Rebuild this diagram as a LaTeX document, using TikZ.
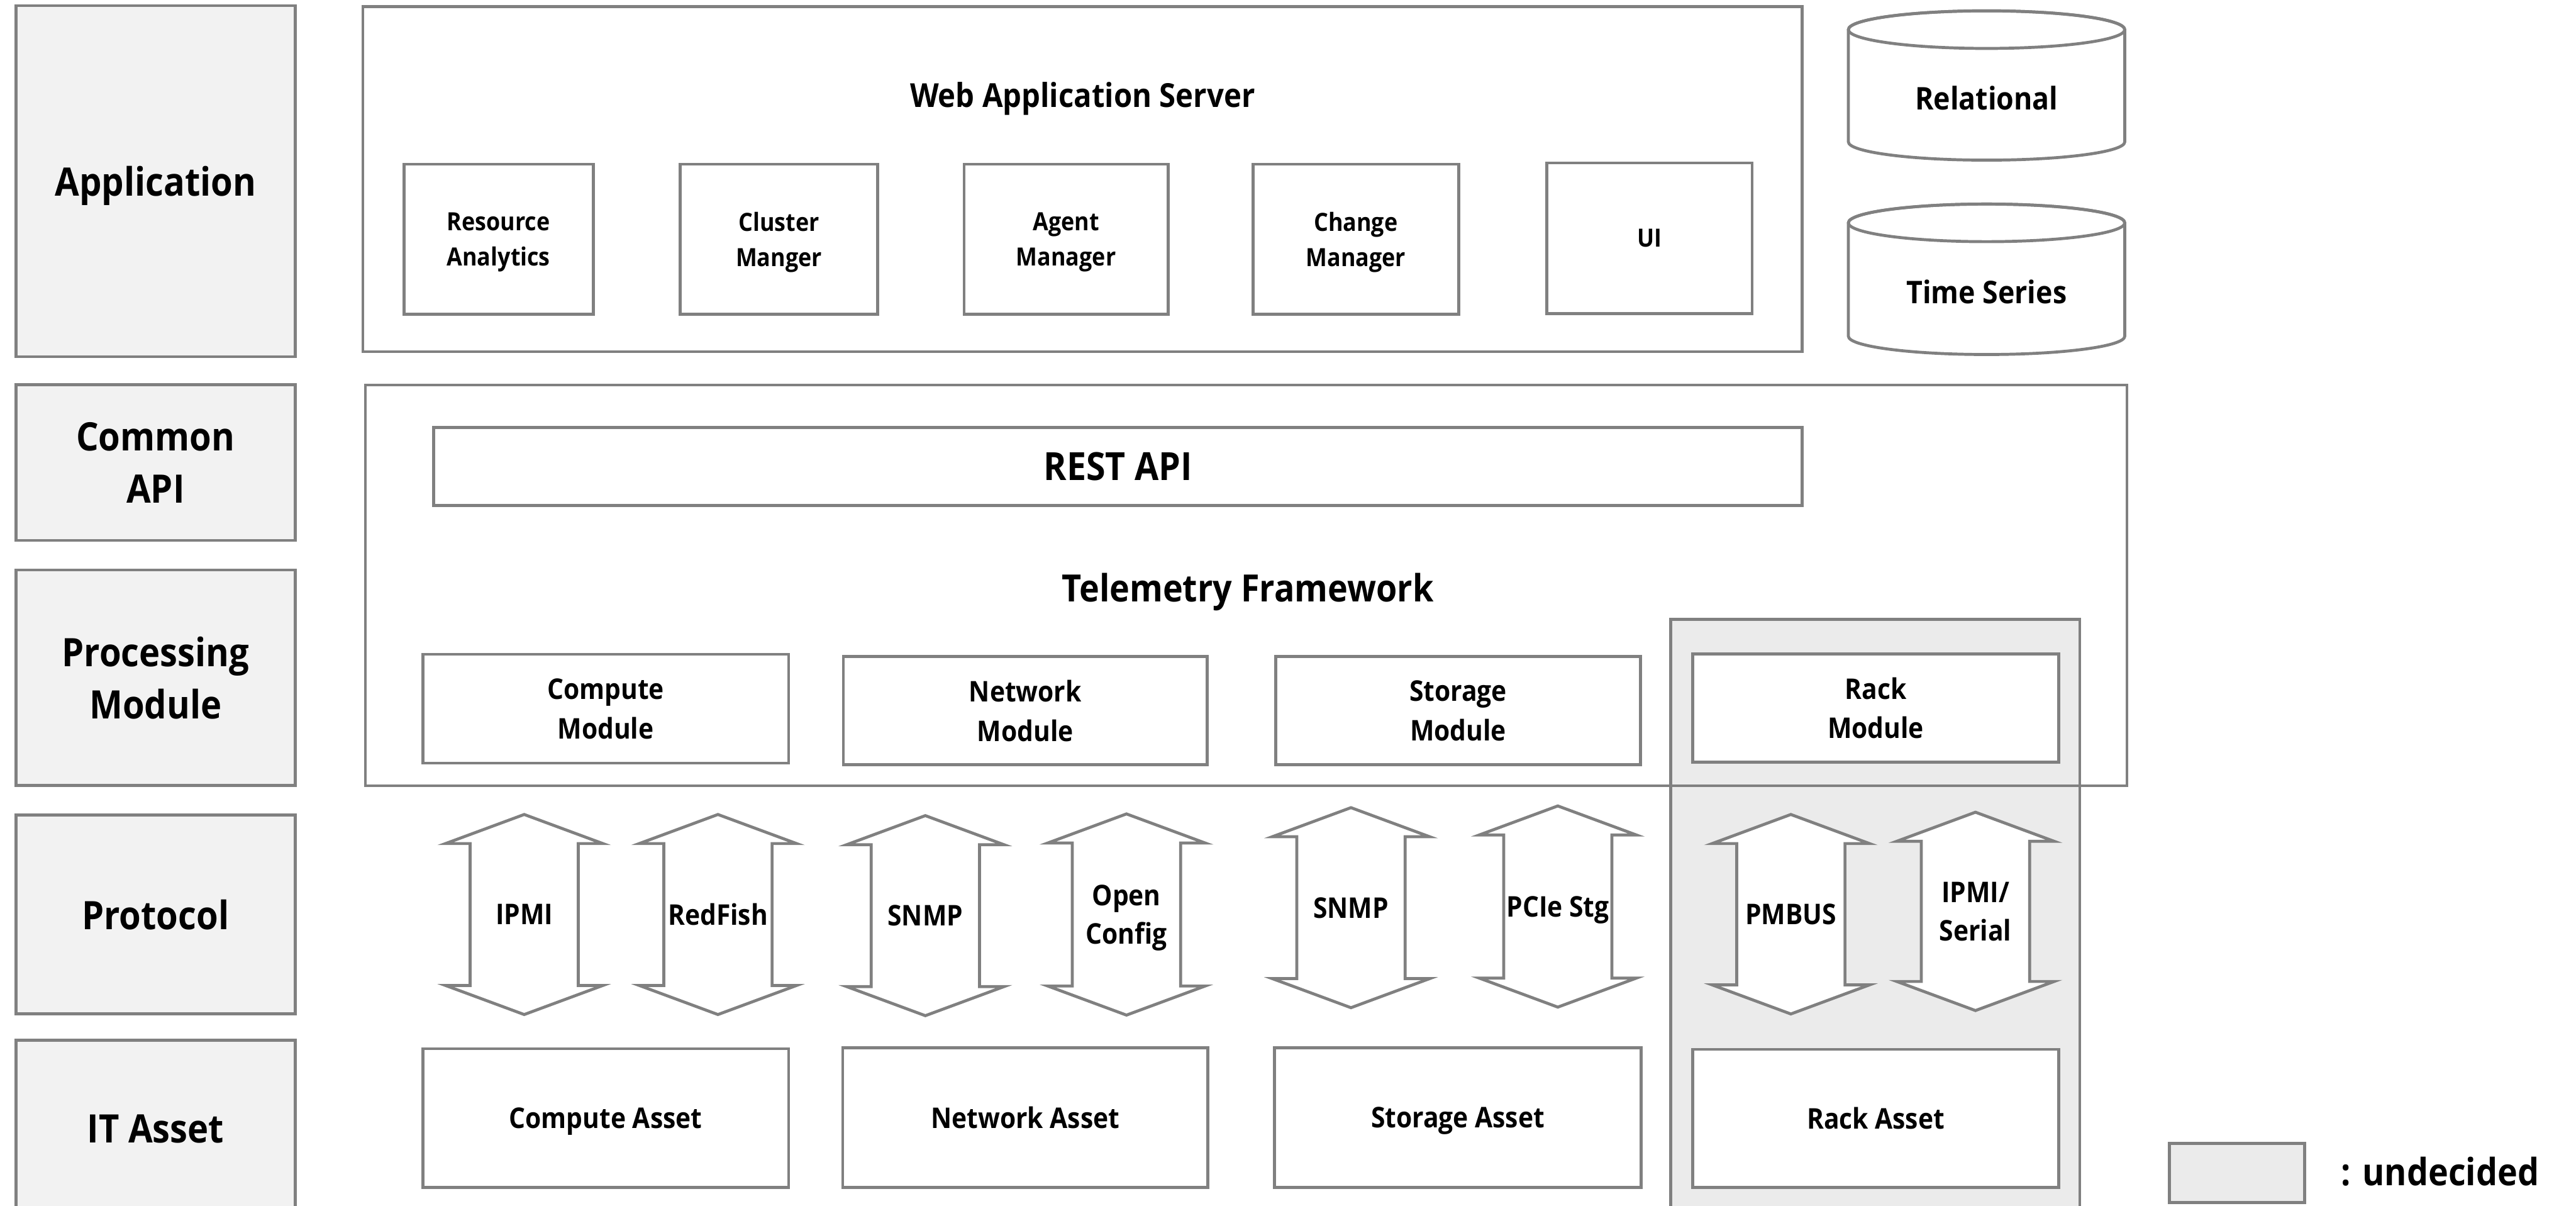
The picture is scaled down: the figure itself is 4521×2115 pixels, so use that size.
\documentclass[tikz,border=0pt]{standalone}
\usepackage{fontspec}
\setmainfont{Open Sans}[FakeStretch=0.9]
\usetikzlibrary{fit}

\definecolor{lineg}{HTML}{808080}
\definecolor{layerfill}{HTML}{F2F2F2}
\definecolor{tbdfill}{HTML}{EBEBEB}

\tikzset{
  outline/.style={draw=lineg, line width=1.3pt},
  label text/.style={align=center, inner sep=0pt, text depth=0pt},
  layer/.style={outline, fill=layerfill, inner sep=0pt},
  layertext/.style={label text, font=\fontsize{17.2}{23}\selectfont\bfseries},
  whitebox/.style={outline, fill=white, inner sep=0pt},
  apptext/.style={label text, font=\fontsize{11}{15.5}\selectfont\bfseries},
  modtext/.style={label text, font=\fontsize{12.5}{17.3}\selectfont\bfseries},
  frame/.style={draw=lineg, line width=1.1pt, inner sep=0pt},
  arrowline/.style={outline, fill=white, line join=miter},
  prototext/.style={label text, font=\fontsize{12.5}{17}\selectfont\bfseries},
  dbtext/.style={label text, font=\fontsize{13.7}{18}\selectfont\bfseries},
}

% double-headed protocol arrow: name, centre x, top y, bottom y, label
\newcommand\protoarrow[5]{%
  \draw[arrowline] (#2,#3) -- ({#2+138},{#3+51}) -- ({#2+95},{#3+51})
    -- ({#2+95},{#4-51}) -- ({#2+138},{#4-51}) -- (#2,#4)
    -- ({#2-138},{#4-51}) -- ({#2-95},{#4-51}) -- ({#2-95},{#3+51})
    -- ({#2-138},{#3+51}) -- cycle;
  \node[prototext] (#1) at (#2,{(#3+#4)/2}) {#5};
}

% database cylinder: name, top ellipse y, bottom ellipse y, label, label y
\newcommand\dbcyl[5]{%
  \filldraw[outline, fill=white] (3244,#2) -- (3244,#3)
    arc[start angle=180, end angle=0, x radius=242.5, y radius=32]
    -- (3729,#2)
    arc[start angle=0, end angle=-180, x radius=242.5, y radius=33] -- cycle;
  \draw[outline] (3486.5,#2) ellipse[x radius=242.5, y radius=33];
  \node[dbtext] (#1) at (3486.5,#5) {#4};
}

\begin{document}
\begin{tikzpicture}[x=0.25pt, y=-0.25pt]
\useasboundingbox (0,0) rectangle (4521,2115);
\clip (0,0) rectangle (4521,2115);

% layer labels
\node[layer, fit={(28,10) (518,626)}] (lapp) {};
\node[layertext] at (lapp.center) {Application};
\node[layer, fit={(28,675) (518,948)}] (lapi) {};
\node[layertext] at (lapi.center) {Common\\API};
\node[layer, fit={(28,1000) (518,1378)}] (lproc) {};
\node[layertext] at (lproc.center) {Processing\\Module};
\node[layer, fit={(28,1430) (518,1779)}] (lproto) {};
\node[layertext] at (lproto.center) {Protocol};
\node[layer, fit={(28,1825) (518,2140)}] (lasset) {};
\node[layertext] at (273,1980) {IT Asset};

% application layer
\node[whitebox, fit={(637,12) (3163,617)}] (was) {};
\node[label text, font=\fontsize{14.5}{18}\selectfont\bfseries] (wastitle) at (1900,166) {Web Application Server};
\node[whitebox, fit={(709,288) (1041,551)}] (ra) {};
\node[apptext] at (ra.center) {Resource\\Analytics};
\node[whitebox, fit={(1194,288) (1540,551)}] (cm) {};
\node[apptext] at (cm.center) {Cluster\\Manger};
\node[whitebox, fit={(1692,288) (2050,551)}] (am) {};
\node[apptext] at (am.center) {Agent\\Manager};
\node[whitebox, fit={(2199,288) (2560,551)}] (chm) {};
\node[apptext] at (chm.center) {Change\\Manager};
\node[whitebox, fit={(2715,286) (3075,550)}] (ui) {};
\node[apptext] at (ui.center) {UI};

% storage back ends
\dbcyl{rel}{52}{249}{Relational}{172}
\dbcyl{ts}{391}{590}{Time Series}{512}

% undecided (rack) column
\node[outline, fill=tbdfill, inner sep=0pt, fit={(2932,1087) (3650,2140)}] (tbd) {};

% telemetry framework
\node[frame, fit={(641,675) (3733,1379)}] (tf) {};
\node[whitebox, fit={(761,750) (3163,887)}] (rest) {};
\node[label text, font=\fontsize{17}{20}\selectfont\bfseries] at (rest.center) {REST API};
\node[label text, font=\fontsize{16.5}{20}\selectfont\bfseries] (tftitle) at (2190,1031) {Telemetry Framework};
\node[whitebox, fit={(742,1148) (1384,1339)}] (mcomp) {};
\node[modtext] at (mcomp.center) {Compute\\Module};
\node[whitebox, fit={(1480,1152) (2119,1342)}] (mnet) {};
\node[modtext] at (mnet.center) {Network\\Module};
\node[whitebox, fit={(2239,1152) (2879,1342)}] (mstor) {};
\node[modtext] at (mstor.center) {Storage\\Module};
\node[whitebox, fit={(2971,1147) (3613,1337)}] (mrack) {};
\node[modtext] at (mrack.center) {Rack\\Module};

% protocols
\protoarrow{ipmi}{920}{1429}{1780}{IPMI}
\protoarrow{redfish}{1260}{1429}{1780}{RedFish}
\protoarrow{snmpn}{1624}{1431}{1782}{SNMP}
\protoarrow{openconfig}{1977}{1428}{1781}{Open\\Config}
\protoarrow{snmps}{2371}{1417}{1768}{SNMP}
\protoarrow{pcie}{2734}{1414}{1767}{PCIe Stg}
\protoarrow{pmbus}{3143}{1429}{1779}{PMBUS}
\protoarrow{ipmiserial}{3467}{1425}{1773}{IPMI/\\Serial}

% IT assets
\node[whitebox, fit={(742,1840) (1384,2083)}] (acomp) {};
\node[modtext] at (acomp.center) {Compute Asset};
\node[whitebox, fit={(1479,1838) (2120,2083)}] (anet) {};
\node[modtext] at (anet.center) {Network Asset};
\node[whitebox, fit={(2237,1838) (2880,2083)}] (astor) {};
\node[modtext] at (astor.center) {Storage Asset};
\node[whitebox, fit={(2971,1841) (3613,2083)}] (arack) {};
\node[modtext] at (arack.center) {Rack Asset};

% legend
\node[outline, fill=tbdfill, inner sep=0pt, fit={(3807,2006) (4045,2110)}] (legbox) {};
\node[anchor=base west, inner sep=0pt, font=\fontsize{16.5}{20}\selectfont\bfseries] (legtext) at (4108,2080) {: undecided};
\end{tikzpicture}
\end{document}
